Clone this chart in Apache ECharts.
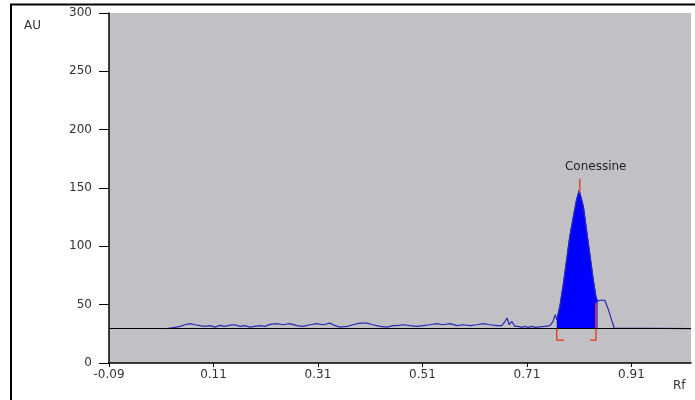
<!DOCTYPE html>
<html>
<head>
<meta charset="utf-8">
<script src="https://cdn.jsdelivr.net/npm/echarts@6/dist/echarts.min.js"></script>
<style>
  html, body { margin: 0; padding: 0; background: #fff; }
  #chart { width: 695px; height: 400px; }
</style>
</head>
<body>
<div id="chart"></div>
<script>
// densitogram values
let traceRf = [0.021, 0.036, 0.046, 0.055, 0.065, 0.075, 0.084, 0.094, 0.103, 0.113,
  0.122, 0.132, 0.142, 0.151, 0.161, 0.170, 0.180, 0.189, 0.199, 0.209,
  0.218, 0.232, 0.243, 0.256, 0.270, 0.281, 0.295, 0.308, 0.320, 0.333,
  0.343, 0.352, 0.366, 0.377, 0.390, 0.404, 0.415, 0.429, 0.442, 0.454,
  0.461, 0.473, 0.486, 0.500, 0.511, 0.524, 0.538, 0.549, 0.563, 0.576,
  0.588, 0.601, 0.614, 0.626, 0.639, 0.653, 0.662, 0.668, 0.672, 0.676,
  0.681, 0.687, 0.693, 0.700, 0.706, 0.712, 0.720, 0.725, 0.735, 0.744,
  0.754, 0.760, 0.764, 0.767, 0.773, 0.780, 0.786, 0.792, 0.799, 0.805,
  0.810, 0.818, 0.824, 0.831, 0.837, 0.842, 0.845, 0.853, 0.859, 0.865,
  0.872, 0.877, 0.880, 1.024];
let traceAu = [29.5, 30.5, 31.4, 32.8, 33.7, 32.8, 32.0, 31.4, 32.0, 30.8,
  32.2, 31.4, 32.5, 32.8, 31.4, 32.0, 30.8, 31.4, 32.0, 31.4,
  33.1, 33.7, 32.8, 33.7, 32.0, 31.4, 32.8, 33.7, 32.8, 34.2,
  32.0, 30.8, 31.4, 32.8, 34.2, 34.2, 32.8, 31.4, 30.8, 32.0,
  32.0, 32.8, 32.0, 31.4, 32.0, 32.8, 33.7, 32.8, 33.7, 32.0,
  32.8, 32.0, 32.8, 33.7, 32.8, 32.0, 32.0, 35.6, 38.6, 32.8,
  35.6, 31.4, 31.4, 30.5, 31.4, 30.5, 31.4, 30.5, 31.0, 31.4,
  32.0, 35.7, 41.4, 37.0, 48.5, 68.6, 88.5, 108.6, 125.7, 140.0,
  148.0, 134.0, 114.0, 91.0, 71.0, 57.0, 53.0, 54.0, 53.6, 47.0,
  37.0, 30.0, 29.5, 29.5];

let baselineAu = 29.5;
let peakStart = 0.767, peakEnd = 0.845;
let peakName = 'Conessine';
let peakMarkRf = [0.811, 0.811];
let peakMarkAu = [158, 146];
let leftBracketRf = [0.767, 0.767, 0.781];
let leftBracketAu = [29.5, 19.4, 19.4];
let rightBracketRf = [0.842, 0.842, 0.831];
let rightBracketAu = [51.7, 19.4, 19.4];

let xTicks = [-0.09, 0.11, 0.31, 0.51, 0.71, 0.91];

let zip = (xs, ys) => xs.map((x, i) => [x, ys[i]]);

let trace = zip(traceRf, traceAu);
let peakArea = trace.filter(p => p[0] >= peakStart && p[0] <= peakEnd);

let font = 'DejaVu Sans';
let red = '#e04a2a';

let chart = echarts.init(document.getElementById('chart'));
let option = {
  animation: false,
  grid: {
    left: 109, top: 13, right: 4, bottom: 37,
    show: true, backgroundColor: '#c1c0c4', borderWidth: 0
  },
  xAxis: {
    type: 'value', min: -0.09, max: 1.024,
    axisLine: { onZero: false, lineStyle: { color: '#000', width: 1.5 } },
    axisTick: { customValues: xTicks, length: 4, lineStyle: { color: '#000' } },
    axisLabel: {
      customValues: xTicks, margin: 6,
      color: '#333', fontFamily: font, fontSize: 12,
      formatter: v => v.toFixed(2)
    },
    splitLine: { show: false }
  },
  yAxis: {
    type: 'value', min: 0, max: 300, interval: 50,
    axisLine: { show: true, onZero: false, lineStyle: { color: '#000', width: 1.5 } },
    axisTick: { show: true, length: 10, lineStyle: { color: '#000' } },
    axisLabel: { margin: 17, color: '#333', fontFamily: font, fontSize: 12 },
    splitLine: { show: false }
  },
  graphic: [
    { type: 'rect', shape: { x: 11, y: 4.5, width: 700, height: 420 },
      style: { fill: 'none', stroke: '#000', lineWidth: 2 }, z: 10 },
    { type: 'text', left: 24, top: 20,
      style: { text: 'AU', fill: '#333', font: '12px "DejaVu Sans"' } },
    { type: 'text', left: 673, top: 380,
      style: { text: 'Rf', fill: '#333', font: '12px "DejaVu Sans"' } }
  ],
  series: [
    {
      type: 'line', data: [], z: 1, silent: true,
      markLine: {
        symbol: 'none', silent: true, label: { show: false },
        lineStyle: { color: '#000', width: 1, type: 'solid' },
        data: [{ yAxis: baselineAu }]
      }
    },
    {
      type: 'line', data: peakArea, z: 2, symbol: 'none',
      lineStyle: { color: '#0000ff', width: 1 },
      areaStyle: { color: '#0000ff', opacity: 1, origin: baselineAu }
    },
    {
      type: 'line', data: trace, z: 3, symbol: 'none',
      lineStyle: { color: '#2a2ab4', width: 1.2 }
    },
    {
      type: 'line', data: zip(leftBracketRf, leftBracketAu), z: 4, symbol: 'none',
      lineStyle: { color: red, width: 1.5 }
    },
    {
      type: 'line', data: zip(rightBracketRf, rightBracketAu), z: 4, symbol: 'none',
      lineStyle: { color: red, width: 1.5 }
    },
    {
      type: 'line', z: 4, symbol: 'circle', symbolSize: 0, showSymbol: true,
      lineStyle: { color: red, width: 1.5 },
      data: [
        { value: [peakMarkRf[0], peakMarkAu[0]],
          label: { show: true, position: 'top', distance: 6, offset: [16, 0],
            formatter: peakName, color: '#222', fontFamily: font, fontSize: 12 } },
        [peakMarkRf[1], peakMarkAu[1]]
      ]
    }
  ]
};
chart.setOption(option);
</script>
</body>
</html>
